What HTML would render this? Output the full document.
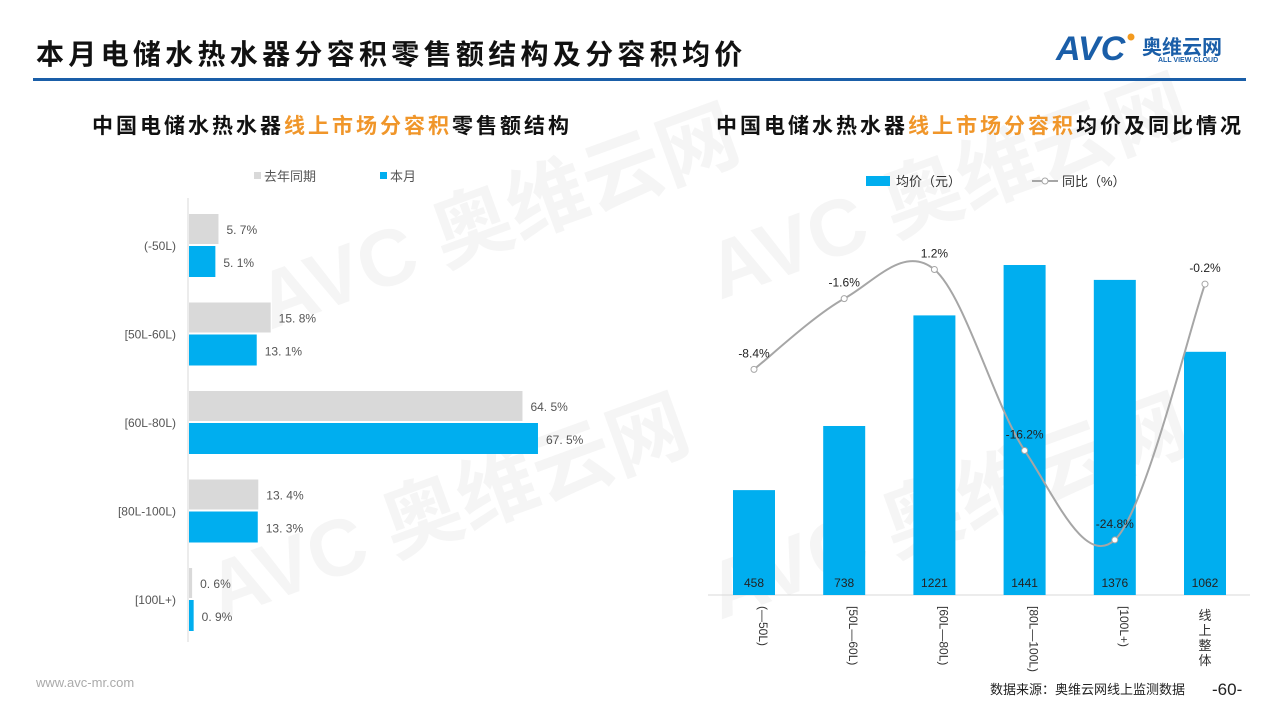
<!DOCTYPE html>
<html><head><meta charset="utf-8">
<style>
body{margin:0;width:1280px;height:720px;background:#fff;overflow:hidden;font-family:"Liberation Sans","Noto Sans CJK SC",sans-serif;}
svg{position:absolute;left:0;top:0}
text{font-family:"Liberation Sans","Noto Sans CJK SC",sans-serif}
</style></head><body>
<svg width="1280" height="720" viewBox="0 0 1280 720">
<g fill="#f5f5f5" font-weight="bold">
<text x="270" y="330" font-size="80" transform="rotate(-20 270 330)">AVC 奥维云网</text>
<text x="220" y="620" font-size="80" transform="rotate(-20 220 620)">AVC 奥维云网</text>
<text x="720" y="300" font-size="80" transform="rotate(-20 720 300)">AVC 奥维云网</text>
<text x="720" y="620" font-size="80" transform="rotate(-20 720 620)">AVC 奥维云网</text>
</g>
<text x="36" y="64" font-size="28" font-weight="bold" fill="#111" letter-spacing="4.3">本月电储水热水器分容积零售额结构及分容积均价</text>
<rect x="33" y="78" width="1213" height="3" fill="#1a5ea8"/>
<g>
<text x="1056" y="60" font-size="34" font-weight="bold" font-style="italic" fill="#1a5ea8">AVC</text>
<circle cx="1131" cy="37" r="3.5" fill="#f39a1e"/>
<text x="1142" y="54" font-size="20" font-weight="bold" fill="#1a5ea8">奥维云网</text>
<text x="1158" y="62" font-size="7" font-weight="bold" fill="#1a5ea8">ALL VIEW CLOUD</text>
</g>
<text x="332" y="133" font-size="21" font-weight="bold" letter-spacing="3" text-anchor="middle"><tspan fill="#111">中国电储水热水器</tspan><tspan fill="#f0962a">线上市场分容积</tspan><tspan fill="#111">零售额结构</tspan></text>
<text x="980" y="133" font-size="21" font-weight="bold" letter-spacing="3" text-anchor="middle"><tspan fill="#111">中国电储水热水器</tspan><tspan fill="#f0962a">线上市场分容积</tspan><tspan fill="#111">均价及同比情况</tspan></text>
<g font-size="13" fill="#555">
<rect x="254" y="172" width="7" height="7" fill="#d9d9d9"/><text x="264" y="181">去年同期</text>
<rect x="380" y="172" width="7" height="7" fill="#00aeef"/><text x="390" y="181">本月</text>
</g>
<g id="left"></g>
<g font-size="13" fill="#333">
<rect x="866" y="176" width="24" height="10" fill="#00aeef"/><text x="896" y="186">均价（元）</text>
<line x1="1032" y1="181" x2="1058" y2="181" stroke="#a6a6a6" stroke-width="2"/><circle cx="1045" cy="181" r="3" fill="#fff" stroke="#a6a6a6"/><text x="1062" y="186">同比（%）</text>
</g>
<g id="right"></g>
<text x="36" y="687" font-size="13" fill="#aaa" font-family="Liberation Mono">www.avc-mr.com</text>
<text x="990" y="694" font-size="13" fill="#222">数据来源：奥维云网线上监测数据</text>
<text x="1212" y="695" font-size="17" fill="#222">-60-</text>
</svg>
<script>
const NS="http://www.w3.org/2000/svg";
const leftCats=["(-50L)","[50L-60L)","[60L-80L)","[80L-100L)","[100L+)"];
const lastYear=[5.7,15.8,64.5,13.4,0.6];
const thisMonth=[5.1,13.1,67.5,13.3,0.9];
const rightCats=["(-50L)","[50L-60L)","[60L-80L)","[80L-100L)","[100L+)","线上整体"];
const avgPrice=[458,738,1221,1441,1376,1062];
const yoy=[-8.4,-1.6,1.2,-16.2,-24.8,-0.2];
function mk(tag,attrs,parent,txt){const e=document.createElementNS(NS,tag);for(const k in attrs)e.setAttribute(k,attrs[k]);if(txt!==undefined)e.textContent=txt;parent.appendChild(e);return e;}
const L=document.getElementById('left');
const xL=v=>189+v*5.17;
const gTop=i=>214+i*88.5;
let ax=mk('line',{x1:188,y1:198,x2:188,y2:642,stroke:'#d9d9d9'},L);


leftCats.forEach((c,i)=>{
 const y=gTop(i);
 let t=mk('text',{x:176,y:y+36,'font-size':12,fill:'#555','text-anchor':'end'},L,c);
 
 
 let b1=mk('rect',{x:189,y:y,width:xL(lastYear[i])-189,height:30,fill:'#d9d9d9'},L);
 
 
 let b2=mk('rect',{x:189,y:y+32,width:xL(thisMonth[i])-189,height:31,fill:'#00aeef'},L);
 
 
 let l1=mk('text',{x:xL(lastYear[i])+8,y:y+20,'font-size':12,fill:'#555'},L,lastYear[i].toFixed(1).replace('.','. ')+'%');
 
 
 let l2=mk('text',{x:xL(thisMonth[i])+8,y:y+53,'font-size':12,fill:'#555'},L,thisMonth[i].toFixed(1).replace('.','. ')+'%');
 
 
});
const R=document.getElementById('right');
const base=595, xR=i=>754+i*90.2, yP=v=>base-v*0.229, yY=v=>282-v*10.4;
let bl=mk('line',{x1:708,y1:base,x2:1250,y2:base,stroke:'#d9d9d9'},R);


rightCats.forEach((c,i)=>{
 const x=xR(i);
 let b=mk('rect',{x:x-21,y:yP(avgPrice[i]),width:42,height:base-yP(avgPrice[i]),fill:'#00aeef'},R);
 
 
 let v=mk('text',{x:x,y:587,'font-size':12,fill:'#222','text-anchor':'middle'},R,avgPrice[i]);
 
 
 let t;
 if(i<5){t=mk('text',{x:x+5,y:606,'font-size':12,fill:'#333',transform:`rotate(90 ${x+5} 606)`},R,c.replace('-','—'));}
 else{t=mk('text',{x:x,y:620,'font-size':13,fill:'#333','text-anchor':'middle'},R);c.split('').forEach((ch,k)=>mk('tspan',{x:x,dy:k?15:0},t,ch));}
 
 
});
const pts=yoy.map((v,i)=>[xR(i),yY(v)]);
let d=`M${pts[0][0]},${pts[0][1]}`;
for(let i=0;i<pts.length-1;i++){const p0=pts[Math.max(0,i-1)],p1=pts[i],p2=pts[i+1],p3=pts[Math.min(pts.length-1,i+2)];
 d+=` C${p1[0]+(p2[0]-p0[0])/6},${p1[1]+(p2[1]-p0[1])/6} ${p2[0]-(p3[0]-p1[0])/6},${p2[1]-(p3[1]-p1[1])/6} ${p2[0]},${p2[1]}`;}
let ln=mk('path',{d:d,fill:'none',stroke:'#a6a6a6','stroke-width':2},R);


pts.forEach((p,i)=>{
 let c=mk('circle',{cx:p[0],cy:p[1],r:3,fill:'#fff',stroke:'#a6a6a6'},R);
 
 
 let t=mk('text',{x:p[0],y:p[1]-12,'font-size':12,fill:'#222','text-anchor':'middle'},R,yoy[i].toFixed(1)+'%');
 
 
});
</script>
</body></html>
